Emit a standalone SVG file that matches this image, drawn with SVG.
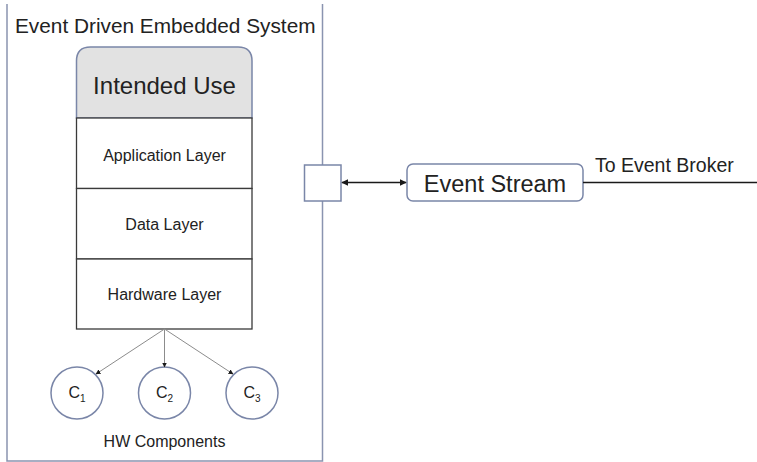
<svg xmlns="http://www.w3.org/2000/svg" width="757" height="462" viewBox="0 0 757 462">
<style>
  text { font-family: "Liberation Sans", Arial, sans-serif; fill: #222; }
  .frame { fill: none; stroke: #8a94b0; stroke-width: 1.5; }
  .blue { fill: #ffffff; stroke: #7a86a8; stroke-width: 1.5; }
  .layer { fill: #ffffff; stroke: #3a3a3a; stroke-width: 1.3; }
  .conn { stroke: #8c8c8c; stroke-width: 1; fill: none; }
  .dark { stroke: #1a1a1a; stroke-width: 1.5; fill: none; }
</style>
<defs>
  <marker id="ah" viewBox="0 0 10 10" refX="9" refY="5" markerWidth="5" markerHeight="5" orient="auto-start-reverse" markerUnits="userSpaceOnUse">
    <path d="M0,0 L10,5 L0,10 z" fill="#1a1a1a"/>
  </marker>
  <marker id="ah2" viewBox="0 0 10 10" refX="9" refY="5" markerWidth="7" markerHeight="7" orient="auto-start-reverse" markerUnits="userSpaceOnUse">
    <path d="M0,0 L10,5 L0,10 z" fill="#1a1a1a"/>
  </marker>
</defs>
<rect width="757" height="462" fill="#ffffff"/>

<g id="system-frame">
  <path class="frame" d="M7,4 V461 H322.5 V4"/>
  <text x="15" y="33" font-size="20.8">Event Driven Embedded System</text>
</g>

<g id="intended-use">
  <path d="M76.5,118 V61 Q76.5,47 90.5,47 H238 Q252,47 252,61 V118 Z" fill="#e2e2e2" stroke="#7a86a8" stroke-width="1.5"/>
  <text x="164.5" y="94" font-size="24" text-anchor="middle">Intended Use</text>
</g>
<g id="application-layer">
  <rect class="layer" x="76.5" y="118" width="175.5" height="70.5"/>
  <text x="164.5" y="161" font-size="16" text-anchor="middle">Application Layer</text>
</g>
<g id="data-layer">
  <rect class="layer" x="76.5" y="188.5" width="175.5" height="70.5"/>
  <text x="164.5" y="230" font-size="16" text-anchor="middle">Data Layer</text>
</g>
<g id="hardware-layer">
  <rect class="layer" x="76.5" y="259" width="175.5" height="70"/>
  <text x="164.5" y="300" font-size="16" text-anchor="middle">Hardware Layer</text>
</g>

<g id="c1">
  <circle class="blue" cx="77" cy="393" r="26"/>
  <text x="68.5" y="398" font-size="16">C<tspan font-size="10" dy="4">1</tspan></text>
</g>
<g id="c2">
  <circle class="blue" cx="164.5" cy="393" r="26"/>
  <text x="156" y="398" font-size="16">C<tspan font-size="10" dy="4">2</tspan></text>
</g>
<g id="c3">
  <circle class="blue" cx="252" cy="393" r="26"/>
  <text x="243.5" y="398" font-size="16">C<tspan font-size="10" dy="4">3</tspan></text>
</g>
<g id="hw-components-label">
  <text x="164.5" y="447" font-size="16" text-anchor="middle">HW Components</text>
</g>

<g id="port">
  <rect class="blue" x="304.5" y="165" width="36.5" height="36"/>
</g>
<g id="event-stream">
  <rect class="blue" x="407" y="164" width="176" height="37" rx="6" ry="6"/>
  <text x="495" y="192" font-size="23.5" text-anchor="middle">Event Stream</text>
</g>
<g id="broker-label">
  <text x="595" y="172" font-size="19.5">To Event Broker</text>
</g>

<g id="connectors">
  <line class="conn" x1="164.5" y1="329" x2="96" y2="374" marker-end="url(#ah)"/>
  <line class="conn" x1="164.5" y1="329" x2="164.5" y2="367" marker-end="url(#ah)"/>
  <line class="conn" x1="164.5" y1="329" x2="233" y2="374" marker-end="url(#ah)"/>
  <line class="dark" x1="342" y1="182.5" x2="406" y2="182.5" marker-start="url(#ah2)" marker-end="url(#ah2)"/>
  <line class="dark" x1="583" y1="182.5" x2="757" y2="182.5"/>
</g>
</svg>
